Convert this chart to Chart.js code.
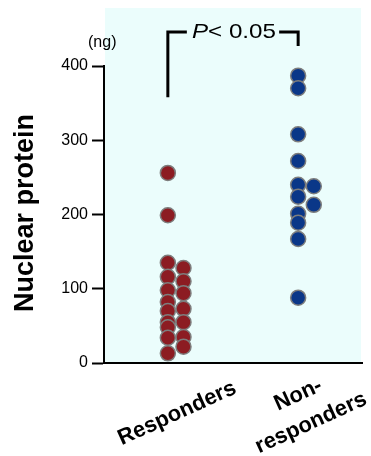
<!DOCTYPE html>
<html>
<head>
<meta charset="utf-8">
<script src="https://cdn.jsdelivr.net/npm/chart.js@4"></script>
<style>
  body { margin: 0; background: #fff; }
  #wrap { width: 371px; height: 456px; position: relative; }
</style>
</head>
<body>
<div id="wrap"><canvas id="chart"></canvas></div>
<script>
// Groups on the x axis
const groups = ['Responders', 'Non-responders'];

// Values (ng), split in the two columns each group is drawn in
const respondersLeft = [256, 199, 135, 116, 98, 82, 70, 55, 48, 34, 13];
const respondersRight = [128, 110, 94, 73, 55, 35, 22];
const nonRespondersLeft = [387, 370, 308, 272, 240, 224, 201, 189, 167, 88];
const nonRespondersRight = [238, 213];

const yTicks = [0, 100, 200, 300, 400];

const colOffset = 0.06;

function toPoints(groupIndex, left, right) {
    const pts = [];
    left.forEach(v => pts.push({ x: groupIndex + 1 - colOffset, y: v }));
    right.forEach(v => pts.push({ x: groupIndex + 1 + colOffset, y: v }));
    return pts.sort((a, b) => b.y - a.y);
}

const font = "'Liberation Sans', Arial, sans-serif";
Chart.defaults.font.family = font;
Chart.defaults.color = '#000';

// light cyan panel behind the points
const panel = {
    id: 'panel',
    beforeDraw(chart) {
        const { ctx, chartArea } = chart;
        ctx.save();
        ctx.fillStyle = '#ebfdfc';
        ctx.fillRect(chartArea.left + 1, 8, chartArea.right - chartArea.left - 2, chartArea.bottom - 8);
        ctx.restore();
    }
};

// labels, bracket and p-value
const extras = {
    id: 'extras',
    afterDraw(chart) {
        const { ctx, chartArea, scales } = chart;
        const x = scales.x, y = scales.y;
        ctx.save();
        ctx.fillStyle = '#000';
        ctx.strokeStyle = '#000';

        // unit
        ctx.font = '16px ' + font;
        ctx.textAlign = 'left';
        ctx.textBaseline = 'middle';
        ctx.fillText('(ng)', 88, 43);

        // y title
        ctx.save();
        ctx.translate(26, 213);
        ctx.rotate(-Math.PI / 2);
        ctx.font = 'bold 27px ' + font;
        ctx.textAlign = 'center';
        ctx.textBaseline = 'middle';
        ctx.fillText('Nuclear protein', 0, 0);
        ctx.restore();

        // bracket
        const xl = x.getPixelForValue(1 - colOffset);
        const xr = x.getPixelForValue(2 - colOffset);
        const top = 32;
        ctx.lineWidth = 3;
        ctx.lineCap = 'butt';
        ctx.beginPath();
        ctx.moveTo(xl, y.getPixelForValue(358));
        ctx.lineTo(xl, top);
        ctx.lineTo(xl + 19, top);
        ctx.moveTo(xr - 19, top);
        ctx.lineTo(xr, top);
        ctx.lineTo(xr, top + 14);
        ctx.stroke();

        // p-value, slightly wide type as in the figure
        ctx.save();
        ctx.translate(192, 38);
        ctx.scale(1.15, 1);
        ctx.textAlign = 'left';
        ctx.textBaseline = 'alphabetic';
        ctx.font = 'italic 21px ' + font;
        ctx.fillText('P', 0, 0);
        const pw = ctx.measureText('P').width;
        ctx.font = '21px ' + font;
        ctx.fillText('< 0.05', pw, 0);
        ctx.restore();

        // x labels
        const ang = -24.5 * Math.PI / 180;
        ctx.font = 'bold 22px ' + font;
        ctx.textAlign = 'center';
        ctx.textBaseline = 'alphabetic';
        ctx.save();
        ctx.translate(x.getPixelForValue(1) + 4, chartArea.bottom + 56);
        ctx.rotate(ang);
        ctx.fillText('Responders', 0, 0);
        ctx.restore();
        ctx.save();
        ctx.translate(x.getPixelForValue(2) + 1, chartArea.bottom + 51);
        ctx.rotate(ang);
        ctx.fillText('Non-', 0, -15);
        ctx.fillText('responders', 0, 16);
        ctx.restore();

        ctx.restore();
    }
};

new Chart(document.getElementById('chart'), {
    type: 'scatter',
    data: {
        datasets: [
            {
                label: groups[0],
                data: toPoints(0, respondersLeft, respondersRight),
                backgroundColor: '#8c1c22',
                borderColor: '#7d7d7d',
                borderWidth: 1.5,
                pointRadius: 7.5
            },
            {
                label: groups[1],
                data: toPoints(1, nonRespondersLeft, nonRespondersRight),
                backgroundColor: '#0a3788',
                borderColor: '#7d7d7d',
                borderWidth: 1.5,
                pointRadius: 7.5
            }
        ]
    },
    options: {
        responsive: true,
        maintainAspectRatio: false,
        animation: false,
        layout: { padding: { top: 66, right: 3, left: 0, bottom: 0 } },
        plugins: {
            legend: { display: false },
            tooltip: { enabled: false }
        },
        scales: {
            x: {
                type: 'linear',
                min: 0.45,
                max: 2.43,
                grid: { display: false },
                ticks: { display: false },
                border: { color: '#000', width: 2 },
                afterFit(scale) { scale.height = 93; }
            },
            y: {
                min: 0,
                max: 400,
                afterBuildTicks(scale) { scale.ticks = yTicks.map(v => ({ value: v })); },
                grid: {
                    drawOnChartArea: false,
                    tickLength: 12,
                    tickColor: '#000',
                    tickWidth: 2
                },
                border: { color: '#000', width: 2 },
                ticks: { color: '#000', font: { size: 16 }, padding: 4 },
                afterFit(scale) { scale.width = 104; }
            }
        }
    },
    plugins: [panel, extras]
});
</script>
</body>
</html>
